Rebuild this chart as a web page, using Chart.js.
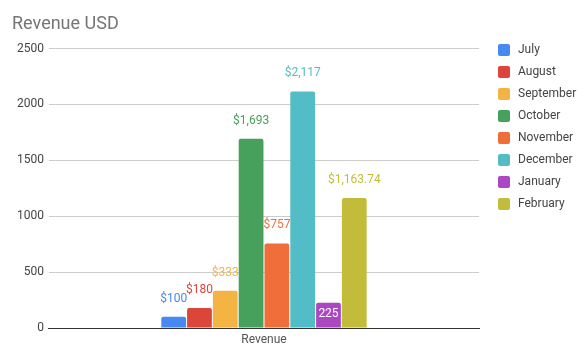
<!DOCTYPE html>
<html>
<head>
<meta charset="utf-8">
<script src="https://cdn.jsdelivr.net/npm/chart.js@4.4.0/dist/chart.umd.min.js"></script>
<style>
  body { margin: 0; background: #fff; }
  #wrap { width: 588px; height: 348px; }
</style>
</head>
<body>
<div id="wrap"><canvas id="myChart" width="588" height="348"></canvas></div>
<script>
var categories = ["Revenue"];
var months = ["July", "August", "September", "October", "November", "December", "January", "February"];
var revenue = [100, 180, 333, 1693, 757, 2117, 225, 1163.74];
var valueLabels = ["$100", "$180", "$333", "$1,693", "$757", "$2,117", "225", "$1,163.74"];
var colors = ["#4689F3", "#DC4539", "#F4B443", "#47A05B", "#EF6E3A", "#52BDC6", "#AB47C1", "#C3BC3B"];
var yTicks = [0, 500, 1000, 1500, 2000, 2500];

var FONT = "Roboto, 'Noto Sans', sans-serif";

var datasets = months.map(function(m, i) {
    return {
        label: m,
        data: [revenue[i]],
        backgroundColor: colors[i],
        borderRadius: 2,
        categoryPercentage: 0.48,
        barPercentage: 0.96
    };
});

// labels above each bar, January sits inside its bar in white
var valueLabelPlugin = {
    id: 'valueLabels',
    afterDatasetsDraw: function(chart) {
        var ctx = chart.ctx;
        ctx.save();
        ctx.font = "12px " + FONT;
        ctx.textAlign = "center";
        ctx.textBaseline = "middle";
        chart.data.datasets.forEach(function(ds, i) {
            var bar = chart.getDatasetMeta(i).data[0];
            if (valueLabels[i].charAt(0) === "$") {
                ctx.fillStyle = colors[i];
                ctx.fillText(valueLabels[i], bar.x, bar.y - 18);
            } else {
                ctx.fillStyle = "#ffffff";
                ctx.fillText(valueLabels[i], bar.x, bar.y + 11);
            }
        });
        ctx.restore();
    }
};

// legend on the right, drawn from the datasets
var sideLegendPlugin = {
    id: 'sideLegend',
    afterDraw: function(chart) {
        var ctx = chart.ctx;
        ctx.save();
        ctx.font = "12px " + FONT;
        ctx.textBaseline = "middle";
        chart.data.datasets.forEach(function(ds, i) {
            var y = 50 + i * 22;
            ctx.fillStyle = ds.backgroundColor;
            ctx.beginPath();
            ctx.roundRect(498, y - 6, 12, 12, 2);
            ctx.fill();
            ctx.fillStyle = "#444";
            ctx.fillText(ds.label, 518, y);
        });
        ctx.restore();
    }
};

var ctx = document.getElementById("myChart").getContext('2d');

var myChart = new Chart(ctx, {
    type: 'bar',
    data: {
        labels: categories,
        datasets: datasets
    },
    options: {
        responsive: false,
        animation: false,
        layout: {
            padding: { left: 12, right: 109, top: 0, bottom: -4 }
        },
        plugins: {
            legend: { display: false },
            tooltip: { enabled: false },
            title: {
                display: true,
                text: "Revenue USD",
                align: 'start',
                color: "#757575",
                font: { family: FONT, size: 18, weight: 'normal' },
                padding: { top: 14, bottom: 13 }
            }
        },
        scales: {
            x: {
                grid: { display: false, drawTicks: false },
                border: { display: true, color: "#333", width: 1 },
                ticks: { color: "#555", font: { family: FONT, size: 12, lineHeight: 1 }, padding: 6 }
            },
            y: {
                min: 0,
                max: 2500,
                afterBuildTicks: function(axis) {
                    axis.ticks = yTicks.map(function(v) { return { value: v }; });
                },
                grid: { color: "#ccc", drawTicks: false },
                border: { display: false },
                ticks: {
                    color: "#444",
                    font: { family: FONT, size: 12 },
                    padding: 5,
                    callback: function(v) { return String(v); }
                }
            }
        }
    },
    plugins: [valueLabelPlugin, sideLegendPlugin]
});
</script>
</body>
</html>
